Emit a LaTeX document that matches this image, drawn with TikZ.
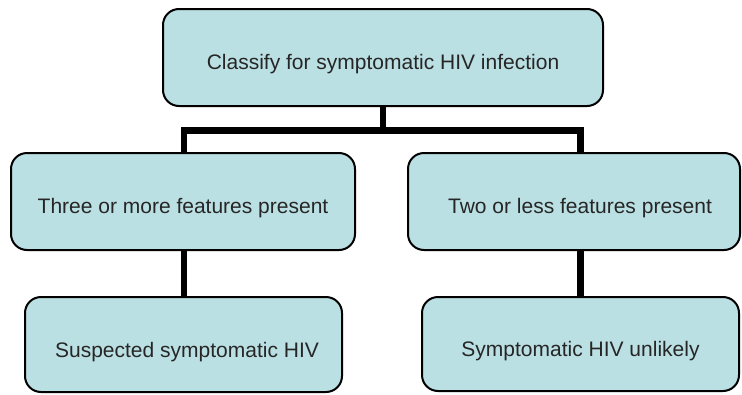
\documentclass[tikz,border=0pt]{standalone}
\usepackage{fontspec}
\setmainfont{Liberation Sans}
\usetikzlibrary{backgrounds}
\definecolor{boxfill}{RGB}{187,224,227}
\tikzset{
  box/.style={draw=black, line width=2pt, fill=boxfill, rounded corners=16pt,
    inner sep=0pt, font=\fontsize{21}{25}\selectfont, text=black!85,
    text height=23pt, text depth=0pt},
  conn/.style={draw=black, line width=6.5pt, line join=miter}
}
\begin{document}
\begin{tikzpicture}[x=1pt,y=1pt]
\useasboundingbox (0,0) rectangle (742,-394);
\node[box, minimum width=440pt, minimum height=97pt] (top) at (383,-57.5)
  {Classify for symptomatic HIV infection};
\node[box, minimum width=344pt, minimum height=97pt] (lm) at (183,-201.5)
  {Three or more features present};
\node[box, minimum width=332pt, minimum height=97pt] (rm) at (574,-201.5)
  {\hspace*{12pt}Two or less features present};
\node[box, minimum width=317pt, minimum height=95pt, text height=25pt] (lb) at (183.5,-344.5)
  {\hspace*{7pt}Suspected symptomatic HIV};
\node[box, minimum width=317pt, minimum height=94pt, text height=25pt] (rb) at (580.5,-344)
  {Symptomatic HIV unlikely};
\coordinate (bar) at (383,-130.5);
\coordinate (rj) at (580.5,-154);
\coordinate (lj) at (184,-154);
\begin{scope}[on background layer]
\draw[conn] (top.south) -- (bar);
\draw[conn] (lj) |- (bar) -| (rj);
\draw[conn] (lj) -- (lj |- lb.north);
\draw[conn] (rb.north |- rm.south) -- (rb.north);
\end{scope}
\end{tikzpicture}
\end{document}
